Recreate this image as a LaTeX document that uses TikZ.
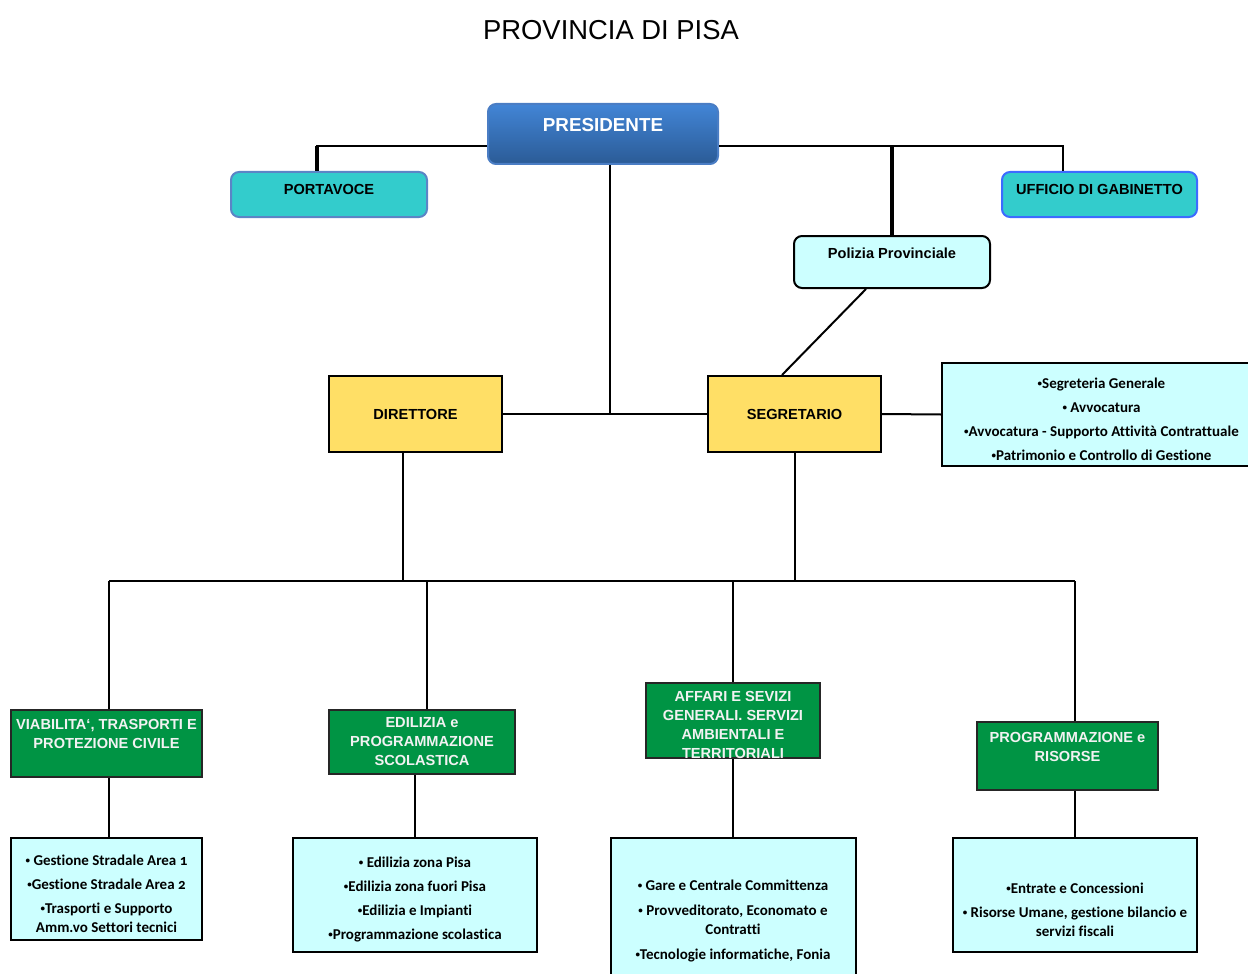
\documentclass[tikz,border=0pt]{standalone}
\usepackage{graphicx}
\usepackage{fontspec}
\setmainfont{Liberation Sans}
\newfontfamily\listfont[Numbers=OldStyle,Ligatures=CommonOff]{Carlito}
\newcommand\bul{\raisebox{0.3ex}{\scalebox{0.6}{•}}}
\newcommand\lift[1]{\rule{0pt}{#1}}

\definecolor{presTop}{HTML}{4285D6}
\definecolor{presBot}{HTML}{2B5B96}
\definecolor{presLine}{HTML}{4A7DC4}
\definecolor{staffFill}{HTML}{33CCCC}
\definecolor{staffLine}{HTML}{5B85C6}
\definecolor{cabLine}{HTML}{3D6BFF}
\definecolor{paleCyan}{HTML}{CCFFFF}
\definecolor{headFill}{HTML}{FFDF66}
\definecolor{areaFill}{HTML}{009444}
\definecolor{areaText}{HTML}{F2F2F2}

\tikzset{
  link/.style={line width=1pt},
  heavy/.style={line width=2pt},
  basebox/.style={rectangle, inner sep=0pt, align=center, line width=1pt,
    font=\bfseries\fontsize{7.3}{9.5}\selectfont},
  presbox/.style={basebox, rounded corners=4pt, draw=presLine, top color=presTop,
    bottom color=presBot, text=white, font=\bfseries\fontsize{9.4}{11}\selectfont},
  staffbox/.style={basebox, rounded corners=4pt, fill=staffFill},
  policebox/.style={basebox, rounded corners=4pt, draw=black, fill=paleCyan},
  headbox/.style={basebox, draw=black, fill=headFill, minimum width=86.5pt, minimum height=38pt},
  areabox/.style={basebox, draw=black!85, fill=areaFill, text=areaText},
  listbox/.style={basebox, draw=black, fill=paleCyan,
    font=\listfont\bfseries\fontsize{7.5}{9.5}\selectfont}
}

\begin{document}
\begin{tikzpicture}[x=0.5pt,y=-0.5pt]
\useasboundingbox (0,0) rectangle (1248,974);

\node[font=\fontsize{13.7}{16}\selectfont] (title) at (611,30) {PROVINCIA DI PISA};

\node[presbox, anchor=north, minimum width=115pt, text height=13.85pt, text depth=16.15pt] (pres) at (603,103) {PRESIDENTE};
\node[staffbox, draw=staffLine, anchor=north, minimum width=98pt, text height=11.1pt, text depth=11.4pt] (porta) at (329,171) {PORTAVOCE};
\node[staffbox, draw=cabLine, anchor=north, minimum width=97.5pt, text height=11.1pt, text depth=11.4pt] (gab) at (1099.5,171) {UFFICIO DI GABINETTO};
\node[policebox, anchor=north, minimum width=98pt, text height=11.1pt, text depth=14.9pt] (poli) at (892,235) {Polizia Provinciale};

\node[headbox] (dir) at (415.5,414) {DIRETTORE};
\node[headbox] (seg) at (794.5,414) {SEGRETARIO};
\node[listbox, anchor=west, minimum width=159.5pt, minimum height=51.5pt] (segr) at (941,414.5)
  {\lift{10.2pt}\bul Segreteria Generale\\[2.5pt] \bul{} Avvocatura\\[2.5pt] \bul Avvocatura - Supporto Attività Contrattuale\\[2.5pt] \bul Patrimonio e Controllo di Gestione};

\node[areabox, minimum width=95.5pt, minimum height=33.5pt] (viab) at (106.5,743.5) {VIABILITA‘, TRASPORTI E\\PROTEZIONE CIVILE\\\mbox{}};
\node[areabox, minimum width=93pt, minimum height=32pt] (edil) at (422,742) {EDILIZIA e\\PROGRAMMAZIONE\\SCOLASTICA};
\node[areabox, minimum width=87pt, minimum height=36.5pt] (affa) at (733,720.5) {\lift{9.2pt}AFFARI E SEVIZI\\GENERALI. SERVIZI\\AMBIENTALI E\\TERRITORIALI};
\node[areabox, minimum width=90.5pt, minimum height=34pt] (prog) at (1067.5,756) {PROGRAMMAZIONE e\\RISORSE\\\mbox{}};

\node[listbox, minimum width=95.5pt, minimum height=51pt] (viabL) at (106.5,889)
  {\lift{10.2pt}\bul{} Gestione Stradale Area 1\\[2.5pt] \bul Gestione Stradale Area 2\\[2.5pt] \bul Trasporti e Supporto\\Amm.vo Settori tecnici};
\node[listbox, minimum width=122pt, minimum height=57pt] (edilL) at (415,895)
  {\lift{10.2pt}\bul{} Edilizia zona Pisa\\[2.5pt] \bul Edilizia zona fuori Pisa\\[2.5pt] \bul Edilizia e Impianti\\[2.5pt] \bul Programmazione scolastica};
\node[listbox, minimum width=122.5pt, minimum height=83pt] (affaL) at (733,921)
  {\bul{} Gare e Centrale Committenza\\[3pt] \bul{} Provveditorato, Economato e\\Contratti\\[3pt] \bul Tecnologie informatiche, Fonia};
\node[listbox, minimum width=122pt, minimum height=57pt] (progL) at (1075,895)
  {\lift{20pt}\bul Entrate e Concessioni\\[2.5pt] \bul{} Risorse Umane, gestione bilancio e\\servizi fiscali};

\coordinate (pL) at ([yshift=-6pt]pres.west);
\coordinate (pR) at ([yshift=-6pt]pres.east);
\coordinate (bus) at (600,581);

\draw[link] (pL) -| ([xshift=-6pt]porta.north);
\draw[heavy] ([xshift=-6pt]porta.north) -- ([xshift=-6pt]porta.north |- pL);
\draw[link] (pR) -| ([xshift=-18.25pt]gab.north);
\draw[heavy] (poli.north) -- (poli.north |- pR);
\draw[link] ([xshift=3.5pt]pres.south) -- ([xshift=3.5pt]pres.south |- dir.east);
\draw[link] (dir.east) -- (seg.west);
\draw[link] ([xshift=-13pt]poli.south) -- ([xshift=-6.25pt]seg.north);
\draw[link] (seg.east) -- (segr.west);

\coordinate (dirDown) at ([xshift=-6.25pt]dir.south);
\coordinate (viabUp) at ([xshift=1.25pt]viab.north);
\coordinate (edilUp) at ([xshift=2.5pt]edil.north);
\coordinate (affaUp) at (affa.north);
\coordinate (progUp) at ([xshift=3.75pt]prog.north);
\draw[link] (dirDown) -- (dirDown |- bus);
\draw[link] (seg.south) -- (seg.south |- bus);
\draw[link] (viabUp |- bus) -- (progUp |- bus);
\foreach \c in {viabUp,edilUp,affaUp,progUp}
  \draw[link] (\c) -- (\c |- bus);

\draw[link] ([xshift=1.25pt]viab.south) -- ([xshift=1.25pt]viabL.north);
\draw[link] ([xshift=-3.5pt]edil.south) -- (edilL.north);
\draw[link] (affa.south) -- (affaL.north);
\draw[link] ([xshift=3.75pt]prog.south) -- (progL.north);
\end{tikzpicture}
\end{document}
